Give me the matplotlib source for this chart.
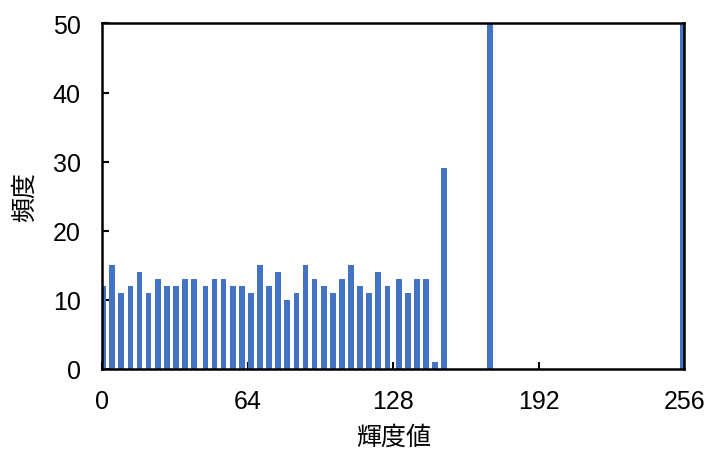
import matplotlib
matplotlib.use("Agg")
import matplotlib.pyplot as plt
import numpy as np

plt.rcParams["font.family"] = ["Liberation Sans", "Noto Sans CJK JP", "DejaVu Sans"]

# Histogram of brightness levels (counts above 50 run off the top of the axis)
levels = [0, 4, 8, 12, 16, 20, 24, 28, 32, 36, 40, 45, 49, 53, 57, 61, 65, 69, 73, 77,
          81, 85, 89, 93, 97, 101, 105, 109, 113, 117, 121, 125, 130, 134, 138, 142,
          146, 150, 170, 255]
counts = [12, 15, 11, 12, 14, 11, 13, 12, 12, 13, 13, 12, 13, 13, 12, 12, 11, 15, 12, 14,
          10, 11, 15, 13, 12, 11, 13, 15, 12, 11, 14, 12, 13, 11, 13, 13,
          1, 29, 180, 340]
x_ticks = [0, 64, 128, 192, 256]
y_ticks = [0, 10, 20, 30, 40, 50]

fig = plt.figure(figsize=(7.1, 4.52), dpi=100)
ax = fig.add_axes([0.1439, 0.1825, 0.8201, 0.7633])

# nudge bars slightly right so the level-0 bar isn't hidden under the spine
ax.bar(np.array(levels) + 0.4, counts, width=2.5, color="#4472C4", zorder=2)

ax.set_xlim(0, 256)
ax.set_ylim(0, 50)
ax.set_xticks(x_ticks)
ax.set_yticks(y_ticks)

for side in ["left", "right", "top", "bottom"]:
    ax.spines[side].set_linewidth(1.8)
    ax.spines[side].set_color("black")
    ax.spines[side].set_zorder(3)

ax.tick_params(axis="both", direction="in", length=5, width=1.5, labelsize=18)
ax.tick_params(axis="x", pad=14.5)
ax.tick_params(axis="y", pad=15.5)

ax.set_xlabel("輝度値", fontsize=18, va="center", family=["Noto Sans CJK JP"])
ax.xaxis.set_label_coords(0.5, -0.199)
ax.set_ylabel("頻度", fontsize=18, va="center", family=["Noto Sans CJK JP"])
ax.yaxis.set_label_coords(-0.1326, 0.5)

plt.savefig("out.png", dpi=100)
plt.close()
